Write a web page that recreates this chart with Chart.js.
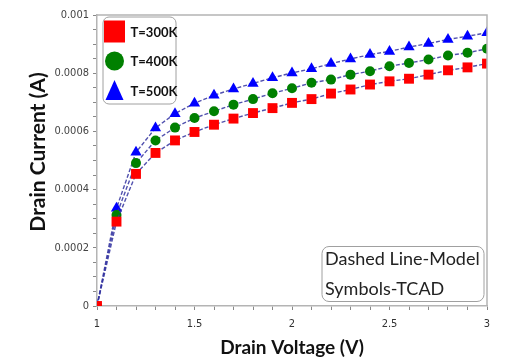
<!DOCTYPE html>
<html>
<head>
<meta charset="utf-8">
<script src="https://cdn.jsdelivr.net/npm/chart.js@4.4.0/dist/chart.umd.min.js"></script>
<style>
  html, body { margin: 0; padding: 0; background: #fff; }
  #wrap { width: 505px; height: 363px; }
</style>
</head>
<body>
<div id="wrap"><canvas id="Chart"></canvas></div>
<script>
// drain voltage sweep (V)
const voltage = [1.0, 1.1, 1.2, 1.3, 1.4, 1.5, 1.6, 1.7, 1.8, 1.9, 2.0,
                 2.1, 2.2, 2.3, 2.4, 2.5, 2.6, 2.7, 2.8, 2.9, 3.0];

// drain current (A) per temperature
const current300 = [0, 0.000290, 0.000454, 0.000526, 0.000569, 0.000598, 0.000623, 0.000644, 0.000663, 0.000680, 0.000698,
                    0.000711, 0.000730, 0.000744, 0.000761, 0.000772, 0.000781, 0.000795, 0.000810, 0.000820, 0.000833];
const current400 = [0, 0.000313, 0.000491, 0.000569, 0.000613, 0.000646, 0.000669, 0.000692, 0.000711, 0.000731, 0.000748,
                    0.000767, 0.000778, 0.000795, 0.000807, 0.000824, 0.000835, 0.000847, 0.000861, 0.000870, 0.000884];
const current500 = [0, 0.000336, 0.000528, 0.000612, 0.000661, 0.000697, 0.000724, 0.000746, 0.000765, 0.000784, 0.000801,
                    0.000815, 0.000833, 0.000849, 0.000864, 0.000875, 0.000890, 0.000902, 0.000916, 0.000927, 0.000939];

const tempLabels = ['T=300K', 'T=400K', 'T=500K'];
const noteLines = ['Dashed Line-Model', 'Symbols-TCAD'];
const yTitle = 'Drain Current (A)';
const xTitle = 'Drain Voltage (V)';

const markerColors = ['#ff0000', '#008000', '#0000ff'];
const markerStyles = ['rect', 'circle', 'triangle'];
const markerSizes = [7, 5, 6.5];
const modelLine = 'rgba(50, 50, 160, 0.85)';

function toPoints(ys) {
    return voltage.map((v, i) => ({ x: v, y: ys[i] }));
}

function makeSet(i, ys) {
    return {
        label: tempLabels[i],
        data: toPoints(ys),
        borderColor: modelLine,
        borderWidth: 1.4,
        borderDash: [4, 2],
        backgroundColor: markerColors[i],
        pointBackgroundColor: markerColors[i],
        pointBorderColor: markerColors[i],
        pointBorderWidth: 0,
        pointStyle: markerStyles[i],
        pointRadius: markerSizes[i],
        pointHoverRadius: markerSizes[i],
        tension: 0
    };
}

// legend box, note box, y title and plot frame
const overlay = {
    id: 'overlay',
    afterDraw(chart) {
        const { ctx, chartArea: a } = chart;
        ctx.save();

        ctx.strokeStyle = '#b4b4b4';
        ctx.lineWidth = 1.5;
        ctx.beginPath();
        ctx.moveTo(a.left, a.top);
        ctx.lineTo(a.right, a.top);
        ctx.lineTo(a.right, a.bottom);
        ctx.stroke();

        // y axis title, sits a bit above the middle of the axis
        ctx.save();
        ctx.translate(38, 152);
        ctx.rotate(-Math.PI / 2);
        ctx.font = 'bold 21px Lato';
        ctx.fillStyle = '#111';
        ctx.textAlign = 'center';
        ctx.textBaseline = 'middle';
        ctx.fillText(yTitle, 0, 0);
        ctx.restore();

        // temperature legend
        const lx = a.left + 6, ly = a.top + 2;
        ctx.fillStyle = '#fff';
        ctx.strokeStyle = '#a0a0a0';
        ctx.lineWidth = 1;
        ctx.beginPath();
        ctx.roundRect(lx, ly, 73, 87, 6);
        ctx.fill();
        ctx.stroke();

        ctx.font = 'bold 13px Lato';
        ctx.textBaseline = 'middle';
        ctx.textAlign = 'left';
        chart.data.datasets.forEach((ds, i) => {
            const cx = lx + 11.5, cy = ly + 14.5 + i * 29.5;
            ctx.fillStyle = markerColors[i];
            ctx.beginPath();
            if (markerStyles[i] === 'rect') {
                ctx.rect(cx - 10.5, cy - 11, 21, 22);
            } else if (markerStyles[i] === 'circle') {
                ctx.arc(cx, cy, 9.5, 0, Math.PI * 2);
            } else {
                ctx.moveTo(cx, cy - 10.5);
                ctx.lineTo(cx + 9, cy + 9.5);
                ctx.lineTo(cx - 9, cy + 9.5);
                ctx.closePath();
            }
            ctx.fill();
            ctx.fillStyle = '#111';
            ctx.fillText(ds.label, lx + 27.5, cy + 1);
        });

        // model / TCAD note
        const nw = 162, nh = 55;
        const nx = a.right - 3 - nw, ny = a.bottom - 4.5 - nh;
        ctx.fillStyle = '#fff';
        ctx.strokeStyle = '#a0a0a0';
        ctx.beginPath();
        ctx.roundRect(nx, ny, nw, nh, 7);
        ctx.fill();
        ctx.stroke();
        ctx.fillStyle = '#222';
        ctx.font = '18px Lato';
        noteLines.forEach((t, i) => {
            ctx.fillText(t, nx + 3, ny + 13 + i * 30);
        });

        ctx.restore();
    }
};

const tickFont = { family: 'DejaVu Sans Condensed', size: 11 };

new Chart(document.getElementById('Chart'), {
    type: 'line',
    data: {
        datasets: [makeSet(0, current300), makeSet(1, current400), makeSet(2, current500)]
    },
    options: {
        responsive: true,
        maintainAspectRatio: false,
        animation: false,
        layout: { padding: { top: 15, right: 18, left: 0, bottom: 0 } },
        plugins: {
            legend: { display: false },
            tooltip: { enabled: false }
        },
        scales: {
            x: {
                type: 'linear',
                min: 1,
                max: 3,
                afterFit: s => { s.height = 57; },
                border: { color: '#b4b4b4', width: 1.5 },
                grid: { drawOnChartArea: false, tickLength: 4, tickColor: '#888' },
                ticks: {
                    stepSize: 0.1,
                    maxTicksLimit: 50,
                    autoSkip: false,
                    maxRotation: 0,
                    padding: 8,
                    color: '#333',
                    font: tickFont,
                    callback: v => {
                        const k = Math.round(v * 10);
                        return k % 5 === 0 ? String(k / 10) : '';
                    }
                },
                title: {
                    display: true,
                    text: xTitle,
                    color: '#111',
                    font: { family: 'Lato', weight: 'bold', size: 19 },
                    padding: { top: 0, bottom: 4 }
                }
            },
            y: {
                min: 0,
                max: 0.001,
                afterFit: s => { s.width = 97; },
                border: { color: '#b4b4b4', width: 1.5 },
                grid: { drawOnChartArea: false, tickLength: 4, tickColor: '#888' },
                ticks: {
                    stepSize: 0.00005,
                    maxTicksLimit: 50,
                    autoSkip: false,
                    padding: 4,
                    color: '#444',
                    font: tickFont,
                    callback: v => {
                        const k = Math.round(v / 0.00005);
                        if (k % 4 !== 0) return '';
                        return k === 0 ? '0' : String(parseFloat((k * 0.00005).toFixed(4)));
                    }
                }
            }
        }
    },
    plugins: [overlay]
});
</script>
</body>
</html>
